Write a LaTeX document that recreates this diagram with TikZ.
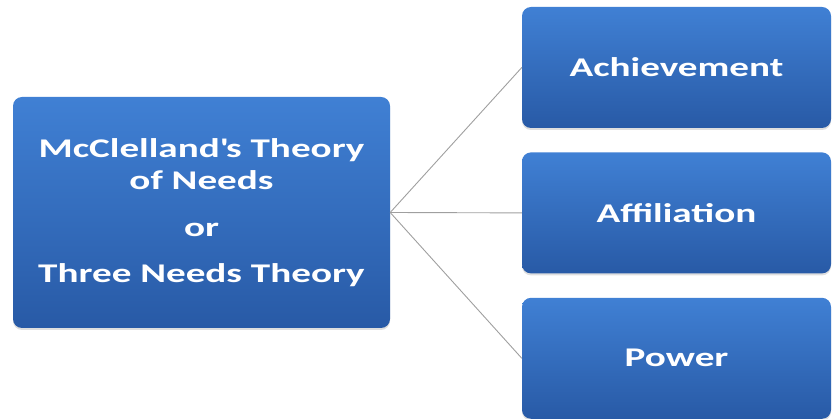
\documentclass[tikz,border=0pt]{standalone}
\usepackage{fontspec}
\setmainfont{Carlito}[FakeStretch=1.45]
\usepackage{tikz}
\usetikzlibrary{positioning,shadows}
\definecolor{boxtop}{RGB}{64,128,212}
\definecolor{boxbottom}{RGB}{40,90,166}

\begin{document}
\begin{tikzpicture}[x=1pt,y=-1pt,thin,
  theory node/.style={rounded corners=9pt,top color=boxtop,bottom color=boxbottom,
    draw=none,text=white,font=\fontsize{27}{32}\selectfont\bfseries,align=center,
    drop shadow={shadow xshift=0pt,shadow yshift=-2pt,opacity=0.25}},
  need node/.style={theory node,minimum width=309pt,minimum height=121pt},
  link/.style={draw=gray!75,line width=0.9pt}]
  \useasboundingbox (0,0) rectangle (833,419);
  \node[theory node,minimum width=377pt,minimum height=231pt] (theory) at (201.5,212.5)
    {McClelland\textquotesingle s Theory\\of Needs\\[15pt]or\\[14pt]Three Needs Theory};
  \node[need node] (ach) at (676.5,67.5) {Achievement};
  \node[need node] (aff) [below=24pt of ach] {Affiliation};
  \node[need node] (pow) [below=24pt of aff] {Power};
  \coordinate (fan) at (theory.east);

  \path[link]
    (fan) edge (ach.west)
    (fan) edge (aff.west)
    (fan) edge (pow.west);
\end{tikzpicture}
\end{document}
